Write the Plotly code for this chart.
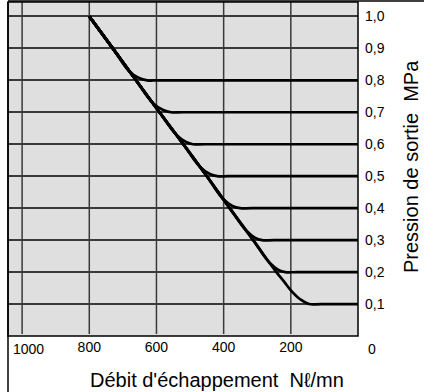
import plotly.graph_objects as go

# Main diagonal (flow Nl/mn, pressure MPa) shared by all curves
DIAG_Q = [800, 730, 661, 591, 520, 450, 382, 312, 243]
DIAG_P = [1.0, 0.9, 0.8, 0.7, 0.6, 0.5, 0.4, 0.3, 0.2]

# Output pressure levels and their knee points
LEVELS = [0.8, 0.7, 0.6, 0.5, 0.4, 0.3, 0.2, 0.1]
KNEE_Q = [
    [683, 652, 628, 590],
    [612, 580, 557, 520],
    [541, 512, 491, 455],
    [471, 441, 419, 385],
    [403, 374, 351, 315],
    [333, 306, 286, 250],
    [264, 237, 217, 180],
    [220, 200, 172, 146, 110],
]
KNEE_P = [
    [0.83, 0.807, 0.8, 0.8],
    [0.73, 0.707, 0.7, 0.7],
    [0.63, 0.607, 0.6, 0.6],
    [0.53, 0.507, 0.5, 0.5],
    [0.43, 0.407, 0.4, 0.4],
    [0.33, 0.307, 0.3, 0.3],
    [0.23, 0.207, 0.2, 0.2],
    [0.17, 0.143, 0.115, 0.1, 0.1],
]

X_TICKS = [800, 600, 400, 200]
X_TICKTEXT = ["800", "600", "400", "200"]
Y_TICKS = [0.1, 0.2, 0.3, 0.4, 0.5, 0.6, 0.7, 0.8, 0.9, 1.0]
Y_TICKTEXT = ["0,1", "0,2", "0,3", "0,4", "0,5", "0,6", "0,7", "0,8", "0,9", "1,0"]

FONT = "Liberation Sans, Arial, Helvetica, sans-serif"

fig = go.Figure()
for lvl, kq, kp in zip(LEVELS, KNEE_Q, KNEE_P):
    xs = [q for q, p in zip(DIAG_Q, DIAG_P) if p > kp[0] + 0.02] + kq + [0]
    ys = [p for p in DIAG_P if p > kp[0] + 0.02] + kp + [lvl]
    fig.add_trace(go.Scatter(
        x=xs, y=ys, mode="lines",
        line=dict(color="black", width=2.7, shape="spline", smoothing=1.1),
        showlegend=False, hoverinfo="skip",
    ))

W, H = 424, 392
L, R, T, B = 8, 66, 2, 56
pw, ph = W - L - R, H - T - B

fig.update_layout(
    width=W, height=H,
    margin=dict(l=L, r=R, t=T, b=B),
    paper_bgcolor="white", plot_bgcolor="#dfdfdf",
    font=dict(family=FONT, size=14, color="black"),
    xaxis=dict(
        range=[1042, 0], tickvals=X_TICKS, ticktext=X_TICKTEXT,
        showgrid=False, zeroline=False, showline=False, ticks="",
        tickfont=dict(size=14), ticklabelstandoff=1,
    ),
    yaxis=dict(
        range=[0, 1.045], side="right", tickvals=Y_TICKS, ticktext=Y_TICKTEXT,
        showgrid=True, gridcolor="#3a3a3a", gridwidth=1.5,
        zeroline=False, showline=False, ticks="", ticklabelstandoff=6,
        tickfont=dict(size=14),
    ),
    shapes=[
        *[dict(type="line", xref="x", yref="paper", x0=v, x1=v, y0=0.006, y1=1,
               line=dict(color="#3a3a3a", width=1.5), layer="below")
          for v in [1000, 800, 600, 400, 200]],
        dict(type="rect", xref="paper", yref="paper", x0=0, x1=1, y0=0, y1=1,
             line=dict(color="black", width=1.5)),
        dict(type="line", xref="paper", yref="paper", x0=0, x1=(W - L) / pw,
             y0=1 + 1 / ph, y1=1 + 1 / ph, line=dict(color="black", width=1.5)),
        dict(type="line", xref="paper", yref="paper", x0=0, x1=0,
             y0=-B / ph, y1=1, line=dict(color="black", width=1.5)),
    ],
    annotations=[
        dict(text="1000", xref="paper", yref="paper", x=(11 - L) / pw, y=-13 / ph,
             xanchor="left", yanchor="middle", showarrow=False, font=dict(size=14)),
        dict(text="0", xref="paper", yref="paper", x=(366 - L) / pw, y=-13 / ph,
             xanchor="left", yanchor="middle", showarrow=False, font=dict(size=14)),
        dict(text="Débit d'échappement  N\u2113/mn", xref="paper", yref="paper",
             x=(217 - L) / pw, y=-(380 - T - ph) / ph, xanchor="center", yanchor="middle",
             showarrow=False, font=dict(size=20)),
        dict(text="Pression de sortie  MPa", xref="paper", yref="paper",
             x=(411 - L) / pw, y=1 - (167 - T) / ph, xanchor="center", yanchor="middle",
             textangle=-90, showarrow=False, font=dict(size=20)),
    ],
)

fig.write_html(
    "out.html",
    config={"displayModeBar": False},
    post_script="document.body.style.margin='0';document.body.style.overflow='hidden';",
)
